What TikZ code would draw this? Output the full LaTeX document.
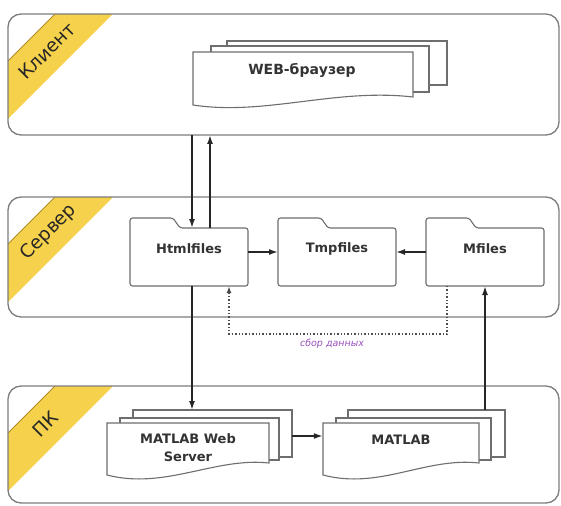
\documentclass[tikz,border=0pt]{standalone}
\usepackage{fontspec}
\setmainfont{DejaVu Sans}
\usetikzlibrary{arrows.meta,calc}
\definecolor{bandline}{HTML}{7C7C7C}
\definecolor{shapeline}{HTML}{6E6E6E}
\definecolor{stripefill}{HTML}{F6D24C}
\definecolor{stripeedge}{HTML}{B08A2A}
\definecolor{notepurple}{HTML}{9A4FC0}
\begin{document}
\begin{tikzpicture}[x=1pt,y=-1pt,
  band/.style={draw=bandline, line width=1.3pt, rounded corners=13pt, inner sep=0pt, outer sep=0pt, anchor=north west},
  shp/.style={draw=shapeline, line width=1.1pt, fill=white},
  backdoc/.style={shp, inner sep=0pt, outer sep=0pt, anchor=north west},
  folder/.style={inner sep=0pt, outer sep=0pt, anchor=north west, minimum width=118pt, minimum height=58pt},
  arr/.style={draw=black!85, line width=1.6pt, -{Latex[length=9pt,width=6pt]}},
  dots/.style={draw=black!70, line width=1.4pt, dotted, -{Latex[length=7pt,width=5pt]}},
  zone/.style={font=\fontsize{18.5}{18.5}\selectfont, text=black!85, rotate=45, inner sep=0pt},
  title/.style={font=\bfseries\fontsize{13}{18}\selectfont, text=black!80, align=center, inner sep=0pt},
  note/.style={font=\itshape\fontsize{9.5}{10}\selectfont, text=notepurple, inner sep=0pt},
]
\useasboundingbox (0,0) rectangle (561,505);

% ---------- stripes ----------
\begin{scope}
  \clip[rounded corners=13pt] (8,14) rectangle (559,135);
  \fill[stripefill] (55,14) -- (113,14) -- (8,119) -- (8,61) -- cycle;
  \draw[stripeedge, line width=1pt] (55,14) -- (8,61);
\end{scope}
\begin{scope}
  \clip[rounded corners=13pt] (8,197) rectangle (559,317);
  \fill[stripefill] (55,197) -- (113,197) -- (8,302) -- (8,244) -- cycle;
  \draw[stripeedge, line width=1pt] (55,197) -- (8,244);
\end{scope}
\begin{scope}
  \clip[rounded corners=13pt] (8,386) rectangle (559,503);
  \fill[stripefill] (55,386) -- (113,386) -- (8,491) -- (8,433) -- cycle;
  \draw[stripeedge, line width=1pt] (55,386) -- (8,433);
\end{scope}

% ---------- bands ----------
\node[band, minimum width=551pt, minimum height=121pt] (klient) at (8,14) {};
\node[band, minimum width=551pt, minimum height=120pt] (server) at (8,197) {};
\node[band, minimum width=551pt, minimum height=117pt] (pk) at (8,386) {};

\node[zone] (klientlbl) at (47,51) {Клиент};
\node[zone] (serverlbl) at (49,232) {Сервер};
\node[zone] (pklbl) at (45,424) {ПК};

% ---------- WEB browser stack ----------
\node[backdoc, minimum width=220pt, minimum height=44pt] (web3) at (227,41) {};
\node[backdoc, minimum width=218pt, minimum height=46pt] (web2) at (211,46) {};
\filldraw[shp] (193,52) -- (413,52) -- (413,97) .. controls (335,88) and (265,116) .. (193,105) -- cycle;
\node[title, font=\bfseries\fontsize{14}{18}\selectfont] (web) at (302,70) {WEB-браузер};

% ---------- folders ----------
\path node[folder] (html) at (130,228) {}
      node[folder] (tmp) at (278,228) {}
      node[folder] (mfiles) at (426,228) {};
\foreach \f in {html,tmp,mfiles}{
  \filldraw[shp, rounded corners=2.5pt] (\f.south west) -- (\f.north west) -- ++(0,-10) -- ++(43,0) -- ++(7,10) -- (\f.north east) -- (\f.south east) -- cycle;
}
\node[title] (htmllbl) at ([yshift=8pt]html.center) {Htmlfiles};
\node[title] (tmplbl) at ([yshift=8pt]tmp.center) {Tmpfiles};
\node[title] (mfileslbl) at ([yshift=8pt]mfiles.center) {Mfiles};

% ---------- PC stacks ----------
\node[backdoc, minimum width=159pt, minimum height=47pt] (mws3) at (133,410) {};
\node[backdoc, minimum width=159pt, minimum height=42pt] (mws2) at (120,418) {};
\filldraw[shp] (107,423) -- (269,423) -- (269,463) .. controls (215,457) and (165,490) .. (107,475) -- cycle;
\node[title, minimum width=162pt] (mws) at (188,448) {MATLAB Web\\Server};

\node[backdoc, minimum width=157pt, minimum height=47pt] (matlab3) at (348,410) {};
\node[backdoc, minimum width=155pt, minimum height=42pt] (matlab2) at (336,418) {};
\filldraw[shp] (323,423) -- (479,423) -- (479,463) .. controls (425,457) and (380,490) .. (323,475) -- cycle;
\node[title, minimum width=156pt] (matlab) at (401,440) {MATLAB};

% ---------- connectors ----------
\draw[arr] ([xshift=3pt]html.north |- klient.south) -- ([xshift=3pt]html.north);
\draw[arr] ([xshift=21pt]html.north) -- ([xshift=21pt]html.north |- klient.south);
\draw[arr] ([yshift=5pt]html.east) -- ([yshift=5pt]tmp.west);
\draw[arr] ([yshift=5pt]mfiles.west) -- ([yshift=5pt]tmp.east);
\draw[dots] ([xshift=-38pt]mfiles.south) -- ++(0,48) -| ([xshift=40pt]html.south);
\node[note] (sbor) at (332,344) {сбор данных};
\draw[arr] ([xshift=3pt]html.south) -- ([xshift=3pt]html.south |- mws3.north);
\draw[arr] (mfiles.south |- matlab3.north) -- (mfiles.south);
\draw[arr] ([yshift=-2.5pt]mws3.east) -- ([yshift=-2.5pt]mws3.east -| matlab.west);
\end{tikzpicture}
\end{document}
